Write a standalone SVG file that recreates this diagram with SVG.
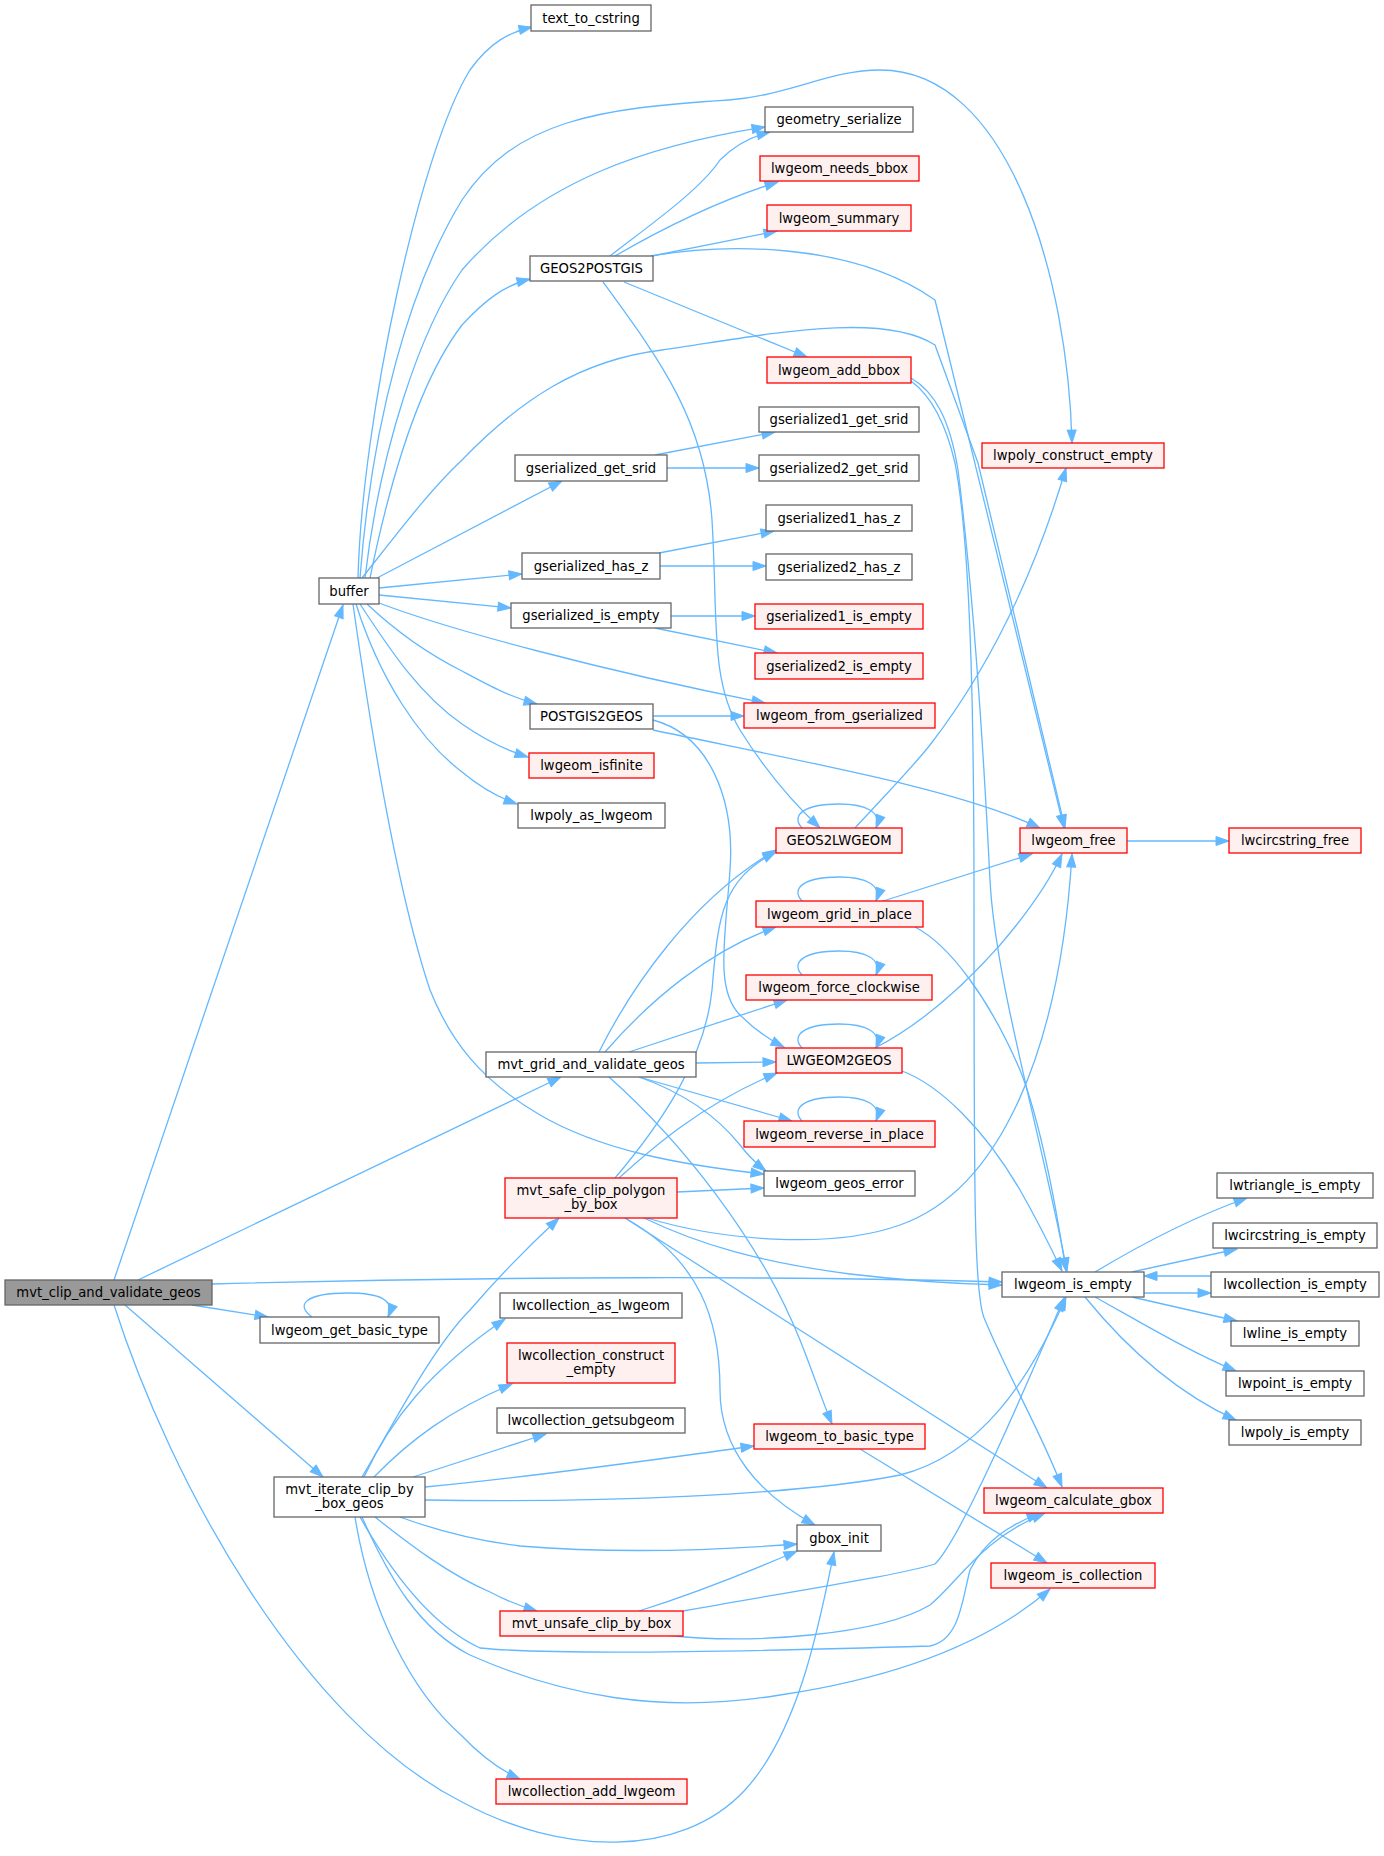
<svg xmlns="http://www.w3.org/2000/svg" width="1384" height="1856" viewBox="0 0 1384 1856">
<style>
.n rect{fill:#ffffff;stroke:#666666;stroke-width:1.3}
.r rect{fill:#fff0f0;stroke:#ff0000;stroke-width:1.3}
.root rect{fill:#999999;stroke:#666666;stroke-width:1.3}
text{font-family:"DejaVu Sans","Liberation Sans",sans-serif;font-size:13.2px;text-anchor:middle;fill:#000000}
#edges path{fill:none;stroke:#63b8ff;stroke-width:1.3;marker-end:url(#a)}
</style>
<defs>
<marker id="a" markerUnits="userSpaceOnUse" markerWidth="15" markerHeight="11" refX="13" refY="5" orient="auto" overflow="visible">
<path d="M0,0.5 L13,5 L0,9.5 Z" fill="#63b8ff" stroke="#63b8ff" stroke-width="1"/>
</marker>
</defs>
<rect width="1384" height="1856" fill="#ffffff"/>
<g id="edges">
<!-- mvt_clip_and_validate_geos -->
<path d="M114,1280 L343,605"/>
<path d="M138,1280 L561,1077"/>
<path d="M212,1284 C500,1276 800,1276 1002,1282"/>
<path d="M192,1305 L268,1317"/>
<path d="M125,1305 L323,1477"/>
<path d="M114,1305 C170,1480 300,1720 462,1802 C560,1855 680,1860 745,1790 C800,1730 820,1620 834,1552"/>
<path d="M312,1317 C295,1305 305,1293 348,1293 C380,1293 395,1300 388,1317"/>
<!-- buffer -->
<path d="M358,578 C362,420 420,150 470,70 C490,42 510,32 532,27"/>
<path d="M365,578 C380,450 420,330 462,270 C540,180 650,145 765,127"/>
<path d="M360,578 C372,420 410,285 462,200 C515,120 600,108 729,100 C790,95 830,70 880,70 C1010,70 1068,280 1072,443"/>
<path d="M370,578 C390,480 420,380 462,325 C485,300 505,285 530,279"/>
<path d="M362,578 C400,530 430,490 462,460 C520,400 580,360 662,350 C760,336 880,310 935,345 L978,463 L1065,828"/>
<path d="M377,578 L562,481"/>
<path d="M379,588 L522,574"/>
<path d="M379,595 L511,608"/>
<path d="M379,603 C450,630 600,670 765,703"/>
<path d="M367,604 C400,635 430,655 462,671 C490,686 510,697 537,704"/>
<path d="M360,604 C390,650 420,695 462,724 C485,740 505,750 528,757"/>
<path d="M356,604 C380,680 420,740 462,772 C480,787 500,798 517,804"/>
<path d="M353,604 C375,760 400,900 430,990 C450,1040 480,1080 540,1115 C600,1150 680,1165 764,1174"/>
<!-- GEOS2POSTGIS -->
<path d="M610,256 C650,225 700,190 720,160 C735,145 750,137 770,132"/>
<path d="M615,256 C660,230 720,200 778,182"/>
<path d="M652,256 L777,231"/>
<path d="M651,256 C720,244 850,240 935,300 L1064,828"/>
<path d="M624,282 L807,357"/>
<path d="M603,282 C660,360 705,420 712,520 C718,620 710,680 740,730 C765,770 790,800 820,828"/>
<!-- GEOS2LWGEOM -->
<path d="M802,828 C790,815 805,804 839,804 C866,804 882,812 876,828"/>
<path d="M855,828 C890,790 910,770 930,745 C980,680 1030,590 1066,468"/>
<!-- gserialized -->
<path d="M655,455 L775,432"/>
<path d="M667,468 L759,468"/>
<path d="M659,553 L774,531"/>
<path d="M660,566 L766,566"/>
<path d="M671,616 L755,616"/>
<path d="M655,628 L777,653"/>
<!-- POSTGIS2GEOS -->
<path d="M653,716 L744,716"/>
<path d="M653,730 C820,765 960,790 1040,828"/>
<path d="M653,720 C710,735 735,800 730,870 C725,940 715,990 740,1015 C755,1030 770,1040 784,1047"/>
<!-- lwgeom_add_bbox -->
<path d="M911,378 C935,392 950,420 958,470 C968,550 980,680 990,880 C995,980 1040,1130 1067,1271"/>
<path d="M911,381 C930,395 945,420 955,463 C970,540 974,700 974,900 C974,1200 974,1300 985,1320 C1010,1380 1040,1430 1062,1487"/>
<!-- lwgeom_free -->
<path d="M1127,841 L1229,841"/>
<!-- lwgeom_grid_in_place -->
<path d="M802,901 C790,888 805,877 839,877 C866,877 882,885 876,901"/>
<path d="M880,902 L1032,854"/>
<path d="M915,927 C950,945 990,1000 1020,1070 C1040,1120 1055,1200 1066,1271"/>
<!-- lwgeom_force_clockwise -->
<path d="M802,975 C790,962 805,951 839,951 C866,951 882,959 876,975"/>
<!-- LWGEOM2GEOS -->
<path d="M802,1048 C790,1035 805,1024 839,1024 C866,1024 882,1032 876,1048"/>
<path d="M875,1048 C920,1025 960,990 1000,945 C1030,910 1050,880 1062,854"/>
<path d="M902,1071 C940,1085 985,1130 1020,1190 C1040,1225 1052,1250 1062,1271"/>
<!-- lwgeom_reverse_in_place -->
<path d="M802,1121 C790,1108 805,1097 839,1097 C866,1097 882,1105 876,1121"/>
<!-- mvt_grid_and_validate_geos -->
<path d="M599,1052 C630,990 690,900 776,850"/>
<path d="M605,1052 C650,1000 710,950 776,927"/>
<path d="M629,1052 L787,1000"/>
<path d="M696,1063 L776,1062"/>
<path d="M639,1077 L792,1121"/>
<path d="M639,1077 C690,1095 720,1120 740,1145 C750,1158 758,1165 766,1171"/>
<path d="M609,1077 C680,1140 760,1240 800,1340 C812,1370 822,1400 832,1424"/>
<!-- mvt_safe_clip_polygon_by_box -->
<path d="M615,1178 C660,1125 705,1060 712,990 C718,920 720,880 776,852"/>
<path d="M619,1178 C650,1150 700,1105 777,1073"/>
<path d="M677,1192 L764,1188"/>
<path d="M647,1218 C720,1240 830,1250 900,1225 C1000,1190 1060,1050 1072,854"/>
<path d="M644,1218 C700,1245 760,1262 850,1274 C900,1280 960,1284 1002,1285"/>
<path d="M625,1218 C700,1260 720,1320 720,1390 C720,1450 760,1495 815,1525"/>
<path d="M625,1218 L1047,1488"/>
<!-- mvt_iterate_clip_by_box_geos -->
<path d="M362,1477 C385,1440 430,1350 470,1310 C500,1275 530,1245 559,1218"/>
<path d="M364,1477 C390,1420 430,1370 505,1319"/>
<path d="M374,1477 C410,1440 450,1410 512,1384"/>
<path d="M413,1477 L546,1434"/>
<path d="M425,1487 C550,1475 650,1460 754,1446"/>
<path d="M425,1500 C600,1503 800,1495 900,1475 C980,1455 1030,1380 1066,1297"/>
<path d="M400,1517 C430,1528 470,1540 520,1546 C620,1554 720,1550 797,1544"/>
<path d="M375,1517 C410,1545 450,1575 490,1592 C505,1600 520,1606 537,1611"/>
<path d="M360,1517 C390,1570 430,1625 480,1648 C560,1656 800,1650 930,1646 C960,1640 962,1600 970,1570 C985,1540 1010,1525 1040,1513"/>
<path d="M362,1517 C390,1580 420,1630 470,1655 C560,1695 660,1715 780,1695 C880,1680 980,1650 1050,1589"/>
<path d="M355,1517 C370,1610 410,1690 461,1735 C480,1755 500,1770 520,1779"/>
<!-- mvt_unsafe_clip_by_box -->
<path d="M639,1611 C680,1598 730,1580 797,1551"/>
<path d="M683,1611 C800,1590 900,1575 935,1564 C960,1540 1020,1400 1064,1298"/>
<path d="M665,1635 C750,1645 880,1635 930,1605 C960,1580 980,1540 1045,1513"/>
<!-- lwgeom_to_basic_type -->
<path d="M860,1449 L1047,1563"/>
<!-- lwgeom_is_empty -->
<path d="M1095,1272 C1140,1245 1190,1218 1247,1198"/>
<path d="M1132,1272 L1237,1249"/>
<path d="M1144,1293 L1211,1293"/>
<path d="M1132,1297 L1237,1321"/>
<path d="M1095,1297 C1140,1322 1190,1352 1236,1371"/>
<path d="M1085,1297 C1120,1340 1170,1390 1236,1420"/>
<!-- lwcollection_is_empty -->
<path d="M1211,1276 L1144,1276"/>
</g>
<g id="n_mvt_clip_and_validate_geos" class="root"><rect x="5" y="1280" width="207" height="25"/><text x="108.5" y="1297">mvt_clip_and_validate_geos</text></g>
<g id="n_buffer" class="n"><rect x="319" y="578" width="60" height="26"/><text x="349" y="595.5">buffer</text></g>
<g id="n_text_to_cstring" class="n"><rect x="531" y="5" width="120" height="26"/><text x="591" y="22.5">text_to_cstring</text></g>
<g id="n_geometry_serialize" class="n"><rect x="765" y="107" width="148" height="25"/><text x="839" y="124">geometry_serialize</text></g>
<g id="n_lwgeom_needs_bbox" class="r"><rect x="760" y="156" width="159" height="25"/><text x="839.5" y="173">lwgeom_needs_bbox</text></g>
<g id="n_lwgeom_summary" class="r"><rect x="767" y="205" width="144" height="26"/><text x="839" y="222.5">lwgeom_summary</text></g>
<g id="n_GEOS2POSTGIS" class="n"><rect x="530" y="256" width="123" height="25"/><text x="591.5" y="273">GEOS2POSTGIS</text></g>
<g id="n_lwgeom_add_bbox" class="r"><rect x="767" y="357" width="144" height="26"/><text x="839" y="374.5">lwgeom_add_bbox</text></g>
<g id="n_gserialized1_get_srid" class="n"><rect x="759" y="407" width="160" height="25"/><text x="839" y="424">gserialized1_get_srid</text></g>
<g id="n_lwpoly_construct_empty" class="r"><rect x="982" y="443" width="182" height="25"/><text x="1073" y="460">lwpoly_construct_empty</text></g>
<g id="n_gserialized_get_srid" class="n"><rect x="515" y="455" width="152" height="26"/><text x="591" y="472.5">gserialized_get_srid</text></g>
<g id="n_gserialized2_get_srid" class="n"><rect x="759" y="455" width="160" height="26"/><text x="839" y="472.5">gserialized2_get_srid</text></g>
<g id="n_gserialized1_has_z" class="n"><rect x="766" y="505" width="146" height="26"/><text x="839" y="522.5">gserialized1_has_z</text></g>
<g id="n_gserialized_has_z" class="n"><rect x="522" y="553" width="138" height="26"/><text x="591" y="570.5">gserialized_has_z</text></g>
<g id="n_gserialized2_has_z" class="n"><rect x="766" y="554" width="146" height="26"/><text x="839" y="571.5">gserialized2_has_z</text></g>
<g id="n_gserialized_is_empty" class="n"><rect x="511" y="603" width="160" height="25"/><text x="591" y="620">gserialized_is_empty</text></g>
<g id="n_gserialized1_is_empty" class="r"><rect x="755" y="604" width="168" height="25"/><text x="839" y="621">gserialized1_is_empty</text></g>
<g id="n_gserialized2_is_empty" class="r"><rect x="755" y="653" width="168" height="26"/><text x="839" y="670.5">gserialized2_is_empty</text></g>
<g id="n_POSTGIS2GEOS" class="n"><rect x="530" y="704" width="123" height="25"/><text x="591.5" y="721">POSTGIS2GEOS</text></g>
<g id="n_lwgeom_from_gserialized" class="r"><rect x="744" y="703" width="191" height="25"/><text x="839.5" y="720">lwgeom_from_gserialized</text></g>
<g id="n_lwgeom_isfinite" class="r"><rect x="529" y="753" width="125" height="25"/><text x="591.5" y="770">lwgeom_isfinite</text></g>
<g id="n_lwpoly_as_lwgeom" class="n"><rect x="518" y="803" width="147" height="25"/><text x="591.5" y="820">lwpoly_as_lwgeom</text></g>
<g id="n_GEOS2LWGEOM" class="r"><rect x="776" y="828" width="126" height="25"/><text x="839" y="845">GEOS2LWGEOM</text></g>
<g id="n_lwgeom_free" class="r"><rect x="1020" y="828" width="107" height="25"/><text x="1073.5" y="845">lwgeom_free</text></g>
<g id="n_lwcircstring_free" class="r"><rect x="1229" y="828" width="132" height="25"/><text x="1295" y="845">lwcircstring_free</text></g>
<g id="n_lwgeom_grid_in_place" class="r"><rect x="756" y="901" width="167" height="26"/><text x="839.5" y="918.5">lwgeom_grid_in_place</text></g>
<g id="n_lwgeom_force_clockwise" class="r"><rect x="746" y="975" width="186" height="25"/><text x="839" y="992">lwgeom_force_clockwise</text></g>
<g id="n_mvt_grid_and_validate_geos" class="n"><rect x="486" y="1052" width="210" height="25"/><text x="591" y="1069">mvt_grid_and_validate_geos</text></g>
<g id="n_LWGEOM2GEOS" class="r"><rect x="776" y="1048" width="126" height="25"/><text x="839" y="1065">LWGEOM2GEOS</text></g>
<g id="n_lwgeom_reverse_in_place" class="r"><rect x="744" y="1121" width="191" height="26"/><text x="839.5" y="1138.5">lwgeom_reverse_in_place</text></g>
<g id="n_lwgeom_geos_error" class="n"><rect x="764" y="1171" width="151" height="25"/><text x="839.5" y="1188">lwgeom_geos_error</text></g>
<g id="n_mvt_safe_clip_polygon_by_box" class="r"><rect x="505" y="1178" width="172" height="40"/><text x="591" y="1194.5">mvt_safe_clip_polygon</text><text x="591" y="1209">_by_box</text></g>
<g id="n_lwtriangle_is_empty" class="n"><rect x="1217" y="1173" width="156" height="25"/><text x="1295" y="1190">lwtriangle_is_empty</text></g>
<g id="n_lwcircstring_is_empty" class="n"><rect x="1213" y="1223" width="164" height="25"/><text x="1295" y="1240">lwcircstring_is_empty</text></g>
<g id="n_lwgeom_is_empty" class="n"><rect x="1002" y="1272" width="142" height="25"/><text x="1073" y="1289">lwgeom_is_empty</text></g>
<g id="n_lwcollection_is_empty" class="n"><rect x="1211" y="1272" width="168" height="25"/><text x="1295" y="1289">lwcollection_is_empty</text></g>
<g id="n_lwgeom_get_basic_type" class="n"><rect x="260" y="1317" width="179" height="26"/><text x="349.5" y="1334.5">lwgeom_get_basic_type</text></g>
<g id="n_lwcollection_as_lwgeom" class="n"><rect x="500" y="1293" width="182" height="25"/><text x="591" y="1310">lwcollection_as_lwgeom</text></g>
<g id="n_lwline_is_empty" class="n"><rect x="1231" y="1321" width="128" height="25"/><text x="1295" y="1338">lwline_is_empty</text></g>
<g id="n_lwcollection_construct_empty" class="r"><rect x="507" y="1343" width="168" height="40"/><text x="591" y="1359.5">lwcollection_construct</text><text x="591" y="1374">_empty</text></g>
<g id="n_lwpoint_is_empty" class="n"><rect x="1226" y="1371" width="138" height="25"/><text x="1295" y="1388">lwpoint_is_empty</text></g>
<g id="n_lwcollection_getsubgeom" class="n"><rect x="497" y="1408" width="188" height="25"/><text x="591" y="1425">lwcollection_getsubgeom</text></g>
<g id="n_lwpoly_is_empty" class="n"><rect x="1229" y="1420" width="132" height="25"/><text x="1295" y="1437">lwpoly_is_empty</text></g>
<g id="n_lwgeom_to_basic_type" class="r"><rect x="754" y="1424" width="171" height="25"/><text x="839.5" y="1441">lwgeom_to_basic_type</text></g>
<g id="n_mvt_iterate_clip_by_box_geos" class="n"><rect x="274" y="1477" width="151" height="40"/><text x="349.5" y="1493.5">mvt_iterate_clip_by</text><text x="349.5" y="1508">_box_geos</text></g>
<g id="n_lwgeom_calculate_gbox" class="r"><rect x="984" y="1488" width="179" height="25"/><text x="1073.5" y="1505">lwgeom_calculate_gbox</text></g>
<g id="n_gbox_init" class="n"><rect x="797" y="1525" width="84" height="26"/><text x="839" y="1542.5">gbox_init</text></g>
<g id="n_lwgeom_is_collection" class="r"><rect x="991" y="1563" width="164" height="25"/><text x="1073" y="1580">lwgeom_is_collection</text></g>
<g id="n_mvt_unsafe_clip_by_box" class="r"><rect x="500" y="1611" width="183" height="25"/><text x="591.5" y="1628">mvt_unsafe_clip_by_box</text></g>
<g id="n_lwcollection_add_lwgeom" class="r"><rect x="496" y="1779" width="191" height="25"/><text x="591.5" y="1796">lwcollection_add_lwgeom</text></g>
</svg>
